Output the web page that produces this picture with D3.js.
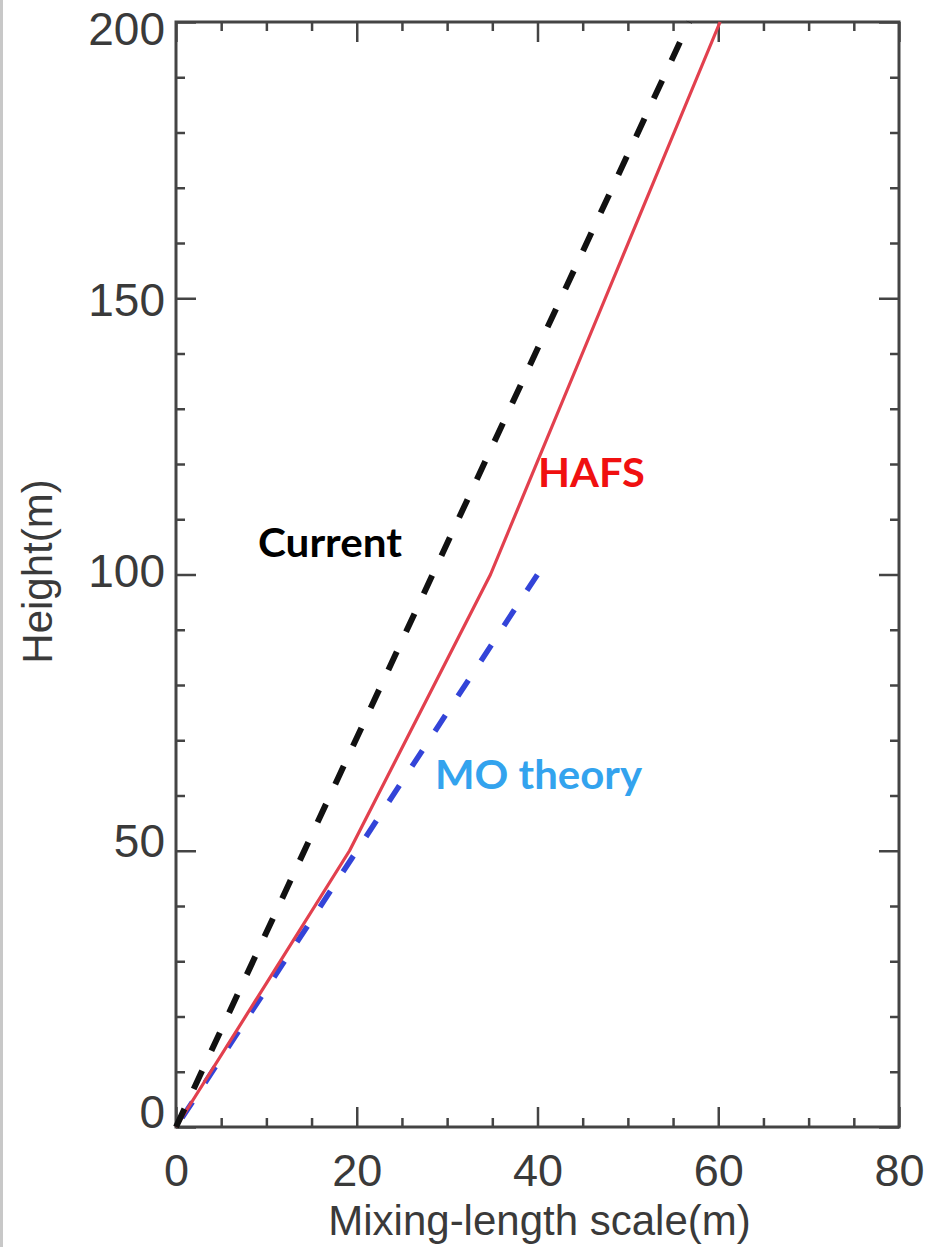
<!DOCTYPE html>
<html>
<head>
<meta charset="utf-8">
<script src="https://cdn.jsdelivr.net/npm/d3@7"></script>
<style>
  html, body { margin: 0; padding: 0; background: #fff; }
  svg { display: block; }
  .tick text { font-family: "Liberation Sans", Arial, sans-serif; fill: #3a3a3a; }
</style>
</head>
<body>
<svg id="chart" width="930" height="1247"></svg>
<script>
// Mixing-length profiles: height (m) against mixing-length scale (m)
const currentHeight = [0, 200];
const currentLength = [0, 56.8];

const hafsHeight = [0, 26, 50, 100, 150, 200];
const hafsLength = [0, 10, 19.2, 34.8, 47.5, 60.2];

const moHeight = [0, 100];
const moLength = [0, 40];

const xMajorTicks = [0, 20, 40, 60, 80];
const yMajorTicks = [0, 50, 100, 150, 200];

const seriesNames = ["Current", "HAFS", "MO theory"];

const svg = d3.select("#chart");
const W = 930, H = 1247;

// thin grey strip along the left edge of the figure
svg.append("rect").attr("x", 0).attr("y", 0).attr("width", 3).attr("height", H).attr("fill", "#c8c8c8");

const x = d3.scaleLinear().domain([0, 80]).range([176, 899]);
const y = d3.scaleLinear().domain([0, 200]).range([1127, 22]);
// tick labels of the height axis sit slightly inside the frame ends
const yLabel = d3.scaleLinear().domain([0, 200]).range([1113, 30]);

const axisColor = "#444";
const xMinor = d3.range(0, 80.01, 5).filter(v => v % 20 !== 0);
const yMinor = d3.range(0, 200.01, 10).filter(v => v % 50 !== 0);

function styleAxis(g) {
  g.select(".domain").remove();
  g.selectAll(".tick line").attr("stroke", axisColor).attr("stroke-width", 2.5);
}

// bottom axis (labels + inward ticks)
svg.append("g").attr("transform", `translate(0,${y(0)})`)
  .call(d3.axisBottom(x).tickValues(xMajorTicks).tickSize(-20).tickPadding(27).tickFormat(d3.format("d")))
  .call(styleAxis)
  .call(g => g.selectAll("text").attr("font-size", 45));
svg.append("g").attr("transform", `translate(0,${y(0)})`)
  .call(d3.axisBottom(x).tickValues(xMinor).tickSize(-9).tickFormat(""))
  .call(styleAxis);

// top axis (ticks only)
svg.append("g").attr("transform", `translate(0,${y(200)})`)
  .call(d3.axisTop(x).tickValues(xMajorTicks).tickSize(-20).tickFormat(""))
  .call(styleAxis);
svg.append("g").attr("transform", `translate(0,${y(200)})`)
  .call(d3.axisTop(x).tickValues(xMinor).tickSize(-9).tickFormat(""))
  .call(styleAxis);

// left axis (labels + inward ticks)
svg.append("g").attr("transform", `translate(${x(0)},0)`)
  .call(d3.axisLeft(y).tickValues(yMajorTicks).tickSize(-20).tickPadding(11).tickFormat(d3.format("d")))
  .call(styleAxis)
  .call(g => g.selectAll("text")
    .attr("font-size", 46)
    .attr("y", d => yLabel(d) - y(d)));
svg.append("g").attr("transform", `translate(${x(0)},0)`)
  .call(d3.axisLeft(y).tickValues(yMinor).tickSize(-9).tickFormat(""))
  .call(styleAxis);

// right axis (ticks only)
svg.append("g").attr("transform", `translate(${x(80)},0)`)
  .call(d3.axisRight(y).tickValues(yMajorTicks).tickSize(-20).tickFormat(""))
  .call(styleAxis);
svg.append("g").attr("transform", `translate(${x(80)},0)`)
  .call(d3.axisRight(y).tickValues(yMinor).tickSize(-9).tickFormat(""))
  .call(styleAxis);

// plot frame
svg.append("rect")
  .attr("x", x(0)).attr("y", y(200))
  .attr("width", x(80) - x(0)).attr("height", y(0) - y(200))
  .attr("fill", "none").attr("stroke", axisColor).attr("stroke-width", 3);

// axis titles
svg.append("text")
  .attr("x", (x(0) + x(80)) / 2 + 2).attr("y", 1235)
  .attr("text-anchor", "middle")
  .attr("font-family", "Liberation Sans, Arial, sans-serif")
  .attr("font-size", 42).attr("fill", "#3a3a3a")
  .text("Mixing-length scale(m)");

svg.append("text")
  .attr("transform", `translate(52,${(y(0) + y(200)) / 2 - 3}) rotate(-90)`)
  .attr("text-anchor", "middle")
  .attr("font-family", "Liberation Sans, Arial, sans-serif")
  .attr("font-size", 42).attr("fill", "#3a3a3a")
  .text("Height(m)");

// profiles
const line = d3.line().x(d => x(d[0])).y(d => y(d[1]));
const plot = svg.append("g");

plot.append("path")
  .datum(moLength.map((v, i) => [v, moHeight[i]]))
  .attr("d", line).attr("fill", "none")
  .attr("stroke", "#3344d8").attr("stroke-width", 5.5)
  .attr("stroke-dasharray", "19,23")
  .attr("stroke-dashoffset", -11);

plot.append("path")
  .datum(hafsLength.map((v, i) => [v, hafsHeight[i]]))
  .attr("d", line).attr("fill", "none")
  .attr("stroke", "#e2404e").attr("stroke-width", 3.2)
  .attr("stroke-linejoin", "round");

plot.append("path")
  .datum(currentLength.map((v, i) => [v, currentHeight[i]]))
  .attr("d", line).attr("fill", "none")
  .attr("stroke", "#111").attr("stroke-width", 6)
  .attr("stroke-dasharray", "20,22");

// series labels
const labelFont = "Lato, 'Open Sans', sans-serif";
function seriesLabel(name, lx, ly, color, width) {
  svg.append("text")
    .attr("x", x(lx)).attr("y", y(ly))
    .attr("font-family", labelFont).attr("font-weight", "bold")
    .attr("font-size", 41).attr("fill", color)
    .attr("textLength", width).attr("lengthAdjust", "spacingAndGlyphs")
    .text(name);
}
seriesLabel(seriesNames[0], 9.07, 103.2, "#000", 144);
seriesLabel(seriesNames[1], 40.05, 115.8, "#f01010", 107);
seriesLabel(seriesNames[2], 28.66, 61.2, "#33a3ee", 207);
</script>
</body>
</html>
